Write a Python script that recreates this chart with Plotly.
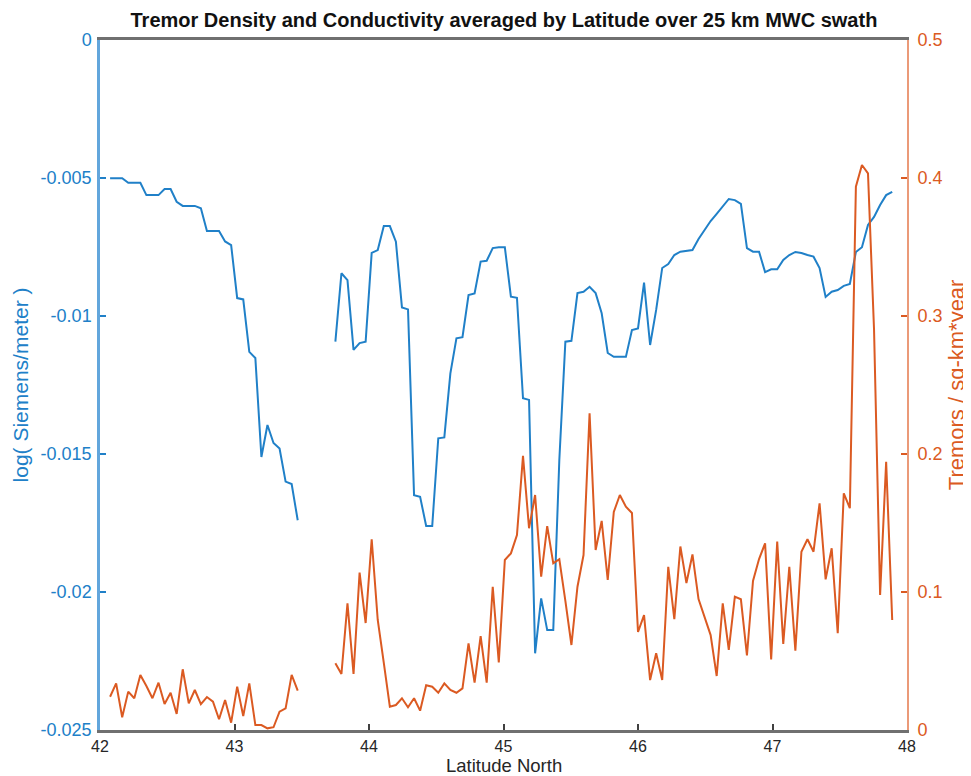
import plotly.graph_objects as go

# latitude sampling (south segment, gap, north segment)
LAT_SOUTH = [42.075, 42.12, 42.165, 42.21, 42.255, 42.3, 42.345, 42.39, 42.435, 42.48,
             42.525, 42.57, 42.615, 42.66, 42.705, 42.75, 42.795, 42.84, 42.885, 42.93,
             42.975, 43.02, 43.065, 43.11, 43.155, 43.2, 43.245, 43.29, 43.335, 43.38,
             43.425, 43.47]
LAT_NORTH = [43.75, 43.795, 43.84, 43.885, 43.93, 43.975, 44.02, 44.065, 44.11, 44.155,
             44.2, 44.245, 44.29, 44.335, 44.38, 44.425, 44.47, 44.515, 44.56, 44.605,
             44.65, 44.695, 44.74, 44.785, 44.83, 44.875, 44.92, 44.965, 45.01, 45.055,
             45.1, 45.145, 45.19, 45.235, 45.28, 45.325, 45.37, 45.415, 45.46, 45.505,
             45.55, 45.595, 45.64, 45.685, 45.73, 45.775, 45.82, 45.865, 45.91, 45.955,
             46.0, 46.045, 46.09, 46.135, 46.18, 46.225, 46.27, 46.315, 46.36, 46.405,
             46.45, 46.495, 46.54, 46.585, 46.63, 46.675, 46.72, 46.765, 46.81, 46.855,
             46.9, 46.945, 46.99, 47.035, 47.08, 47.125, 47.17, 47.215, 47.26, 47.305,
             47.35, 47.395, 47.44, 47.485, 47.53, 47.575, 47.62, 47.665, 47.71, 47.755,
             47.8, 47.845, 47.89]

# log conductivity (left axis)
COND_SOUTH = [-0.00501, -0.00501, -0.00501, -0.00517, -0.00517, -0.00517, -0.00562, -0.00562,
              -0.00562, -0.00540, -0.00540, -0.00586, -0.00601, -0.00601, -0.00601, -0.00610,
              -0.00692, -0.00692, -0.00692, -0.00730, -0.00743, -0.00935, -0.00940, -0.01130,
              -0.01152, -0.01511, -0.01395, -0.01460, -0.01480, -0.01600, -0.01609, -0.01740]
COND_NORTH = [-0.01093, -0.00845, -0.00870, -0.01123, -0.01098, -0.01093, -0.00771, -0.00761,
              -0.00674, -0.00674, -0.00731, -0.00969, -0.00976, -0.01649, -0.01655, -0.01761,
              -0.01761, -0.01443, -0.01440, -0.01208, -0.01081, -0.01077, -0.00924, -0.00918,
              -0.00803, -0.00800, -0.00754, -0.00751, -0.00751, -0.00930, -0.00934, -0.01298,
              -0.01304, -0.02222, -0.02023, -0.02138, -0.02138, -0.01522, -0.01093, -0.01090,
              -0.00917, -0.00912, -0.00894, -0.00917, -0.00990, -0.01134, -0.01148, -0.01148,
              -0.01148, -0.01051, -0.01045, -0.00879, -0.01105, -0.00978, -0.00826, -0.00812,
              -0.00779, -0.00767, -0.00765, -0.00761, -0.00721, -0.00688, -0.00656, -0.00630,
              -0.00605, -0.00576, -0.00580, -0.00594, -0.00754, -0.00767, -0.00767, -0.00841,
              -0.00831, -0.00831, -0.00797, -0.00779, -0.00768, -0.00772, -0.00779, -0.00785,
              -0.00826, -0.00931, -0.00912, -0.00906, -0.00891, -0.00884, -0.00768, -0.00751,
              -0.00670, -0.00641, -0.00598, -0.00562, -0.00550]

# tremor density (right axis)
TREMOR_SOUTH = [0.0241, 0.0338, 0.0092, 0.0278, 0.0230, 0.0399, 0.0319, 0.0230, 0.0343, 0.0188,
                0.0270, 0.0116, 0.0440, 0.0193, 0.0290, 0.0188, 0.0239, 0.0205, 0.0078, 0.0217,
                0.0053, 0.0314, 0.0101, 0.0338, 0.0036, 0.0036, 0.0012, 0.0020, 0.0133, 0.0157,
                0.0399, 0.0285]
TREMOR_NORTH = [0.0483, 0.0406, 0.0918, 0.0406, 0.1140, 0.0775, 0.1382, 0.0797, 0.0486, 0.0169,
                0.0181, 0.0230, 0.0165, 0.0230, 0.0140, 0.0324, 0.0314, 0.0270, 0.0338, 0.0290,
                0.0270, 0.0302, 0.0628, 0.0343, 0.0681, 0.0343, 0.1038, 0.0489, 0.1232, 0.1280,
                0.1413, 0.1986, 0.1462, 0.1703, 0.1111, 0.1478, 0.1208, 0.1237, 0.0935, 0.0616,
                0.1038, 0.1268, 0.2295, 0.1304, 0.1515, 0.1087, 0.1580, 0.1703, 0.1618, 0.1573,
                0.0710, 0.0833, 0.0362, 0.0556, 0.0362, 0.1183, 0.0804, 0.1330, 0.1065, 0.1272,
                0.0949, 0.0821, 0.0688, 0.0391, 0.0918, 0.0580, 0.0966, 0.0947, 0.0540, 0.1080,
                0.1239, 0.1353, 0.0512, 0.1365, 0.0623, 0.1183, 0.0575, 0.1292, 0.1382, 0.1292,
                0.1643, 0.1092, 0.1317, 0.0701, 0.1715, 0.1607, 0.3937, 0.4094, 0.4034, 0.2899,
                0.0978, 0.1944, 0.0797]

X_TICKS = [42, 43, 44, 45, 46, 47, 48]
LEFT_TICKS = [0, -0.005, -0.01, -0.015, -0.02, -0.025]
LEFT_LABELS = ["0", "-0.005", "-0.01", "-0.015", "-0.02", "-0.025"]
RIGHT_TICKS = [0, 0.1, 0.2, 0.3, 0.4, 0.5]
RIGHT_LABELS = ["0", "0.1", "0.2", "0.3", "0.4", "0.5"]

BLUE = "#2080c8"
ORANGE = "#db5a22"
BLUE_AXIS = "#62a6dc"
ORANGE_AXIS = "#eb9a78"
FONT = "Liberation Sans"

lat = LAT_SOUTH + [None] + LAT_NORTH
cond = COND_SOUTH + [None] + COND_NORTH
tremor = TREMOR_SOUTH + [None] + TREMOR_NORTH

fig = go.Figure()
fig.add_trace(go.Scatter(x=lat, y=cond, mode="lines", connectgaps=False,
                         line=dict(color=BLUE, width=2), showlegend=False))
fig.add_trace(go.Scatter(x=lat, y=tremor, mode="lines", connectgaps=False, yaxis="y2",
                         line=dict(color=ORANGE, width=2), showlegend=False))

# axis titles placed like the MATLAB figure
fig.add_annotation(text="Latitude North", xref="paper", yref="paper", x=0.5, y=-0.051,
                   xanchor="center", yanchor="middle", showarrow=False,
                   font=dict(color="#262626", size=18.5))
fig.add_annotation(text="log( Siemens/meter )", xref="paper", yref="paper", x=-0.0986, y=0.5,
                   xanchor="center", yanchor="middle", textangle=-90, showarrow=False,
                   font=dict(color=BLUE, size=21))
fig.add_annotation(text="Tremors / sq-km*year", xref="paper", yref="paper", x=1.061, y=0.5,
                   xanchor="center", yanchor="middle", textangle=-90, showarrow=False,
                   font=dict(color=ORANGE, size=22))

# the page body adds an 8px offset, so the figure is 8px smaller than the window
fig.update_layout(
    width=963, height=768,
    paper_bgcolor="white", plot_bgcolor="white",
    margin=dict(l=92, r=64, t=32, b=46, autoexpand=False),
    font=dict(family=FONT, size=18),
    title=dict(text="<b>Tremor Density and Conductivity averaged by Latitude over 25 km MWC swath</b>",
               x=0.515, xanchor="center", xref="container", y=0.984, yanchor="middle",
               font=dict(size=20, color="#111111")),
    xaxis=dict(range=[42, 48], tickvals=X_TICKS, ticktext=[str(v) for v in X_TICKS],
               automargin=False, ticklabelstandoff=0,
               showgrid=False, zeroline=False, showline=True, linecolor="#707070", linewidth=2.5,
               mirror=True, ticks="inside", ticklen=6, tickcolor="#404040", tickwidth=1.5,
               tickfont=dict(color="#262626", size=16)),
    yaxis=dict(range=[-0.025, 0], tickvals=LEFT_TICKS, ticktext=LEFT_LABELS,
               automargin=False, ticklabelstandoff=2,
               showgrid=False, zeroline=False, showline=True, linecolor=BLUE_AXIS, linewidth=2.5,
               ticks="inside", ticklen=6, tickcolor=BLUE, tickwidth=1.5,
               tickfont=dict(color=BLUE, size=18)),
    yaxis2=dict(range=[0, 0.5], tickvals=RIGHT_TICKS, ticktext=RIGHT_LABELS,
                overlaying="y", side="right", automargin=False, ticklabelstandoff=5,
                showgrid=False, zeroline=False, showline=True, linecolor=ORANGE_AXIS, linewidth=2,
                ticks="inside", ticklen=6, tickcolor=ORANGE, tickwidth=1.5,
                tickfont=dict(color=ORANGE, size=18)),
)

fig.write_html("out.html")
